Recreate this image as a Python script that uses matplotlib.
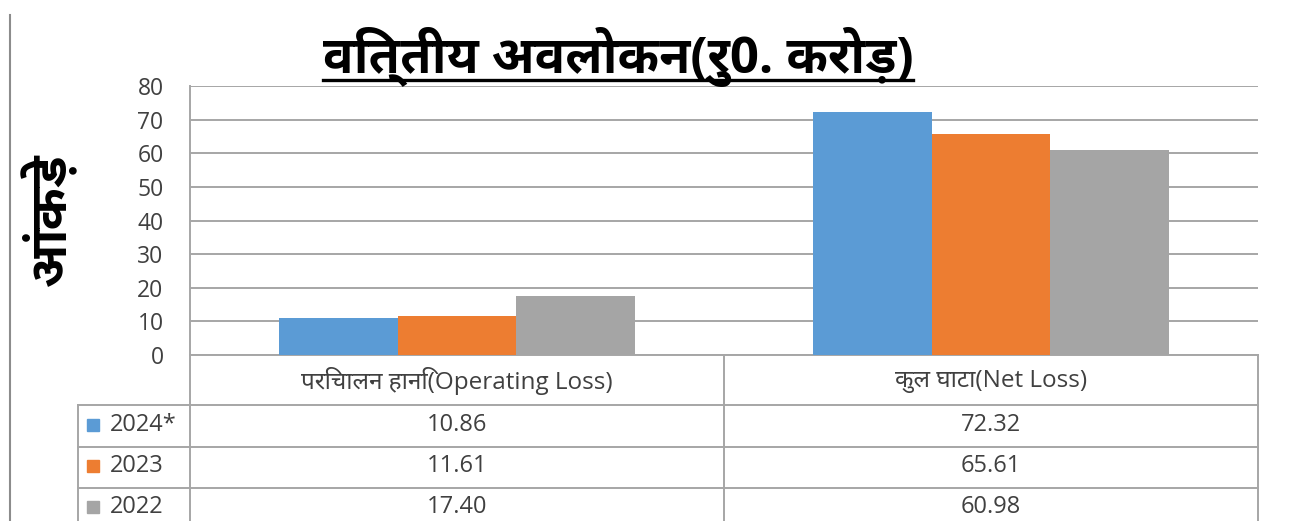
import matplotlib
matplotlib.use("Agg")
import matplotlib.pyplot as plt
import matplotlib.transforms as mtrans
import matplotlib.patheffects as pe
from matplotlib import font_manager
from matplotlib.ft2font import FT2Font
from matplotlib.lines import Line2D
from matplotlib.patches import Rectangle
import numpy as np

# data
categories = ["परिचालन हानि(Operating Loss)", "कुल घाटा(Net Loss)"]
years = ["2024*", "2023", "2022"]
values_2024 = [10.86, 72.32]
values_2023 = [11.61, 65.61]
values_2022 = [17.40, 60.98]
series = [values_2024, values_2023, values_2022]
colors = ["#5B9BD5", "#ED7D31", "#A5A5A5"]
y_ticks = [0, 10, 20, 30, 40, 50, 60, 70, 80]
title = "वित्तीय अवलोकन(रु0. करोड़)"
y_label = "आंकड़े"


def find_devanagari_fonts():
    found = {}
    for f in font_manager.fontManager.ttflist:
        try:
            if 0x0915 in FT2Font(f.fname).get_charmap():
                found.setdefault(f.name, set()).add(f.weight)
        except Exception:
            pass
    return found


dev_fonts = find_devanagari_fonts()
dev = None
bold_dev = False
if dev_fonts:
    def rank(name):
        weights = [w if isinstance(w, int) else 400 for w in dev_fonts[name]]
        return (max(weights) >= 600, "Noto" in name, "Sans" in name)
    dev = max(dev_fonts, key=rank)
    bold_dev = rank(dev)[0]

fams = ["Open Sans"] + ([dev] if dev else []) + ["DejaVu Sans"]
plt.rcParams["font.family"] = fams

W, H = 1290, 521
fx = lambda px: px / W
fy = lambda py: 1 - py / H
txt_col = "#404040"

fig = plt.figure(figsize=(12.9, 5.21), dpi=100)
ax = fig.add_axes([fx(190), fy(355), fx(1258) - fx(190), (355 - 86) / H])

x = np.arange(len(categories))
w = 0.222
for i, vals in enumerate(series):
    ax.bar(x + (i - 1) * w, vals, w, color=colors[i], zorder=3)

ax.set_xlim(-0.5, 1.5)
ax.set_ylim(0, 80)
ax.set_yticks(y_ticks)
ax.set_xticks([])
ax.yaxis.grid(True, color="#A6A6A6", lw=1.4, zorder=0)
for s in ["top", "right"]:
    ax.spines[s].set_visible(False)
for s in ["left", "bottom"]:
    ax.spines[s].set_color("#A6A6A6")
    ax.spines[s].set_linewidth(1.4)
ax.tick_params(axis="y", length=0, pad=19, labelsize=16.5, labelcolor=txt_col)

# data table under the axes
blend = mtrans.blended_transform_factory(ax.transData, fig.transFigure)
line_kw = dict(color="#A6A6A6", lw=1.4)
for py in [405, 447, 488]:
    fig.add_artist(Line2D([fx(78), fx(1258)], [fy(py), fy(py)], **line_kw))
for px in [190, 1258]:
    fig.add_artist(Line2D([fx(px), fx(px)], [fy(355), 0], **line_kw))
fig.add_artist(Line2D([fx(78), fx(78)], [fy(405), 0], **line_kw))
fig.add_artist(Line2D([0.5, 0.5], [fy(355), 0], transform=blend, **line_kw))

for j, cat in enumerate(categories):
    fig.text(x[j], fy(381), cat, transform=blend, ha="center", va="center",
             fontsize=17.5, color=txt_col)

row_y = [425, 466, 507]
for i, yr in enumerate(years):
    fig.add_artist(Rectangle((fx(87), fy(row_y[i]) - 6 / H), 12 / W, 12 / H,
                             color=colors[i], transform=fig.transFigure))
    fig.text(fx(110), fy(row_y[i]), yr, ha="left", va="center",
             fontsize=17, color=txt_col)
    for j in range(len(categories)):
        fig.text(x[j], fy(row_y[i]), f"{series[i][j]:.2f}", transform=blend,
                 ha="center", va="center", fontsize=17, color=txt_col)

# outer frame line on the left
fig.add_artist(Line2D([fx(10), fx(10)], [fy(15), 0], color="#8C8C8C", lw=1.5))

heavy = [] if bold_dev else [pe.withStroke(linewidth=2.2, foreground="black")]
t = fig.text(fx(618), fy(73), title, ha="center", va="baseline",
             fontsize=36.5, fontweight="bold", color="black", path_effects=heavy)
fig.text(fx(50), fy(220), y_label, rotation=90, ha="center", va="center",
         fontsize=37, fontweight="bold", color="black", path_effects=heavy)

fig.canvas.draw()
bb = t.get_window_extent()
fig.add_artist(Line2D([bb.x0 / W, bb.x1 / W], [fy(80), fy(80)], color="black", lw=2.4))

fig.savefig("out.png", dpi=100)
